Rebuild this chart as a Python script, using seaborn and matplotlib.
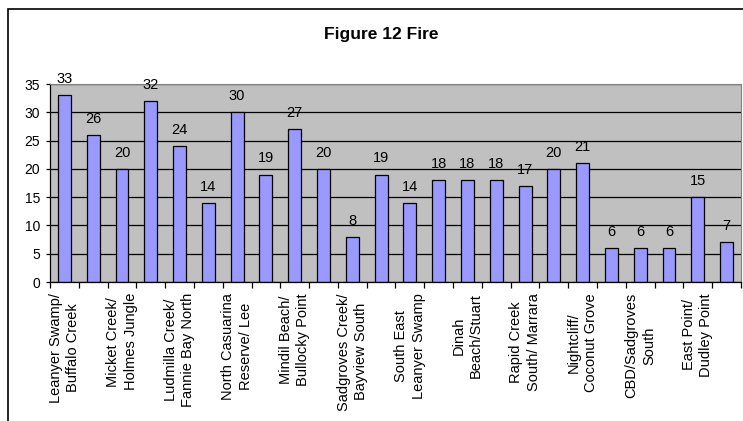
import numpy as np
import matplotlib
matplotlib.use("Agg")
import matplotlib.pyplot as plt
import seaborn as sns
from matplotlib.patches import Rectangle

# -------------------------------------------------------
# Data (Excel only printed every other label)
# -------------------------------------------------------
categories = [
    "Leanyer Swamp/\nBuffalo Creek", "(unlabelled 2)",
    "Micket Creek/\nHolmes Jungle", "(unlabelled 4)",
    "Ludmilla Creek/\nFannie Bay North", "(unlabelled 6)",
    "North Casuarina\nReserve/ Lee", "(unlabelled 8)",
    "Mindil Beach/\nBullocky Point", "(unlabelled 10)",
    "Sadgroves Creek/\nBayview South", "(unlabelled 12)",
    "South East\nLeanyer Swamp", "(unlabelled 14)",
    "Dinah\nBeach/Stuart", "(unlabelled 16)",
    "Rapid Creek\nSouth/ Marrara", "(unlabelled 18)",
    "Nightcliff/\nCoconut Grove", "(unlabelled 20)",
    "CBD/Sadgroves\nSouth", "(unlabelled 22)",
    "East Point/\nDudley Point", "(unlabelled 24)",
]
values = [33, 26, 20, 32, 24, 14, 30, 19, 27, 20, 8, 19,
          14, 18, 18, 18, 17, 20, 21, 6, 6, 6, 15, 7]
y_ticks = [0, 5, 10, 15, 20, 25, 30, 35]
title = "Figure 12 Fire"

sns.set_style("white")
plt.rcParams["font.family"] = ["Liberation Sans", "DejaVu Sans"]
plt.rcParams["text.color"] = "black"
plt.rcParams["xtick.color"] = "black"
plt.rcParams["ytick.color"] = "black"

W, H = 743, 421
fig = plt.figure(figsize=(W / 100, H / 100), dpi=100)
ax = fig.add_axes([50 / W, 1 - 282 / H, (741 - 50) / W, (282 - 84) / H])

# plot area background + grid
ax.set_facecolor("#C0C0C0")
ax.set_axisbelow(True)
ax.yaxis.grid(True, color="black", linewidth=0.9)

sns.barplot(x=categories, y=values, order=categories, color="#9999FF",
            saturation=1, edgecolor="black", linewidth=0.9, width=0.45, ax=ax)

# value labels on top of bars
for i, v in enumerate(values):
    ax.annotate(str(v), (i, v), xytext=(0, 6.5), textcoords="offset points",
                ha="center", va="bottom", fontsize=10.5, color="black")

ax.set_ylim(0, 35)
ax.set_xlim(-0.5, len(categories) - 0.5)
ax.set_yticks(y_ticks)
ax.tick_params(axis="y", length=3, width=0.9, pad=4, labelsize=10, left=True)

# category boundary ticks, labels only on every other category
ax.set_xticks(np.arange(-0.5, len(categories), 1), minor=True)
ax.set_xticks(range(0, len(categories), 2))
ax.set_xticklabels(categories[::2], rotation=90, ha="center", va="top",
                   multialignment="center", fontsize=10.5, linespacing=1.3)
ax.tick_params(axis="x", which="major", length=0, pad=8)
ax.tick_params(axis="x", which="minor", length=4.5, width=0.9, bottom=True)
ax.set_xlabel("")
ax.set_ylabel("")

for side in ["left", "bottom"]:
    ax.spines[side].set_color("black")
    ax.spines[side].set_linewidth(0.9)
ax.spines["top"].set_color("#808080")
ax.spines["right"].set_color("#808080")

# chart area border and title
fig.patches.append(Rectangle((8 / W, -0.05), 1.2, 1 - 9 / H + 0.05,
                             transform=fig.transFigure, fill=False,
                             edgecolor="black", linewidth=1.2))
fig.text(381 / W, 1 - 34 / H, title, ha="center", va="center",
         fontsize=12.5, fontweight="bold")

fig.savefig("out.png", dpi=100)
